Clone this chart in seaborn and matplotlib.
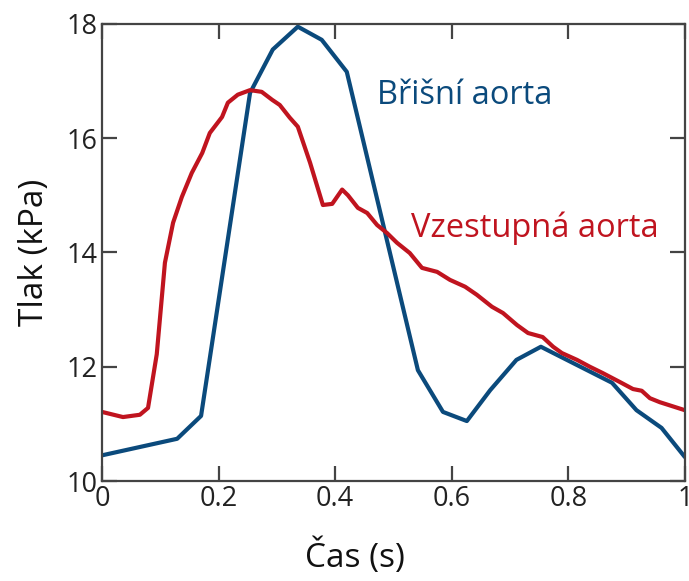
import pandas as pd
import matplotlib.pyplot as plt
import seaborn as sns

# Břišní aorta (abdominal)
t_brisni = [0.0, 0.129, 0.170, 0.254, 0.293, 0.336, 0.377, 0.420, 0.542,
            0.585, 0.626, 0.666, 0.711, 0.753, 0.875, 0.917, 0.960, 1.0]
p_brisni = [10.45, 10.74, 11.14, 16.79, 17.55, 17.95, 17.72, 17.16, 11.94,
            11.21, 11.05, 11.59, 12.12, 12.35, 11.72, 11.24, 10.93, 10.42]

# Vzestupná aorta (ascending)
t_vzestupna = [0.0, 0.036, 0.065, 0.079, 0.094, 0.108, 0.122, 0.137, 0.154,
               0.172, 0.185, 0.206, 0.216, 0.233, 0.254, 0.274, 0.292, 0.305,
               0.322, 0.336, 0.357, 0.379, 0.395, 0.412, 0.422, 0.439, 0.455,
               0.472, 0.489, 0.506, 0.528, 0.549, 0.575, 0.597, 0.623, 0.643,
               0.669, 0.688, 0.712, 0.731, 0.756, 0.774, 0.789, 0.815, 0.837,
               0.859, 0.889, 0.911, 0.926, 0.940, 0.957, 1.0]
p_vzestupna = [11.21, 11.12, 11.16, 11.28, 12.22, 13.82, 14.52, 14.97, 15.39,
               15.74, 16.09, 16.37, 16.62, 16.76, 16.84, 16.81, 16.67, 16.58,
               16.36, 16.20, 15.57, 14.83, 14.85, 15.10, 15.00, 14.78, 14.69,
               14.48, 14.34, 14.17, 13.99, 13.73, 13.66, 13.52, 13.40, 13.26,
               13.05, 12.94, 12.73, 12.59, 12.52, 12.35, 12.24, 12.12, 12.00,
               11.89, 11.73, 11.61, 11.58, 11.45, 11.38, 11.24]

x_ticks = [0, 0.2, 0.4, 0.6, 0.8, 1]
x_ticklabels = ['0', '0.2', '0.4', '0.6', '0.8', '1']
y_ticks = [10, 12, 14, 16, 18]

blue = '#0b4a7c'
red = '#c0141f'

sns.set_style('ticks')
plt.rcParams['font.family'] = ['Open Sans', 'DejaVu Sans']

fig = plt.figure(figsize=(6.89, 5.81), dpi=100)
ax = fig.add_axes([0.148, 0.172, 0.846, 0.787])

df_b = pd.DataFrame({'t': t_brisni, 'p': p_brisni})
df_v = pd.DataFrame({'t': t_vzestupna, 'p': p_vzestupna})
sns.lineplot(data=df_b, x='t', y='p', sort=False, color=blue, lw=3, ax=ax)
sns.lineplot(data=df_v, x='t', y='p', sort=False, color=red, lw=3, ax=ax)

ax.set_xlim(0, 1)
ax.set_ylim(10, 18)
ax.set_xticks(x_ticks)
ax.set_xticklabels(x_ticklabels)
ax.set_yticks(y_ticks)

for s in ax.spines.values():
    s.set_visible(True)
    s.set_color('#444444')
    s.set_linewidth(1.6)

ax.tick_params(direction='in', length=11, width=1.6, color='#444444',
               top=True, right=True, labelsize=19.5, labelcolor='#222222', pad=3)

ax.set_xlabel('Čas (s)', fontsize=24, color='#111111', labelpad=18, x=0.434)
ax.set_ylabel('Tlak (kPa)', fontsize=24, color='#111111', labelpad=11)

ax.text(0.472, 16.74, 'Břišní aorta', color=blue, fontsize=23.5, va='center', ha='left')
ax.text(0.530, 14.43, 'Vzestupná aorta', color=red, fontsize=23.5, va='center', ha='left')

fig.savefig('out.png', dpi=100)
